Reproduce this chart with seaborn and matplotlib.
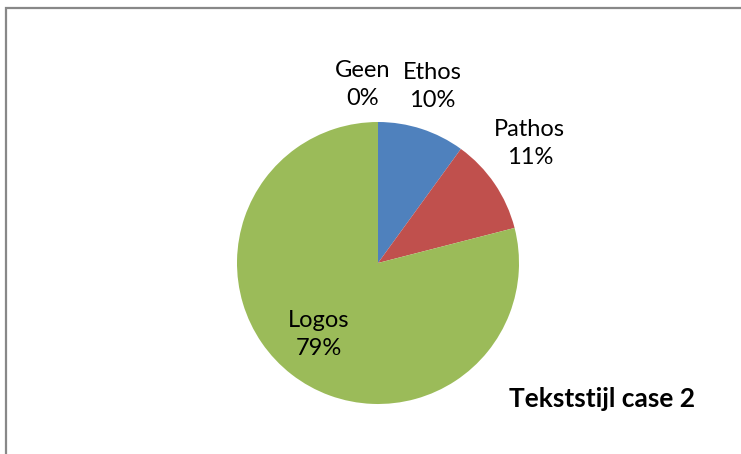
import numpy as np
import matplotlib
matplotlib.use("Agg")
import matplotlib.pyplot as plt
import seaborn as sns
from matplotlib.patches import Rectangle

categories = ["Geen", "Ethos", "Pathos", "Logos"]
shares = [0, 10, 11, 79]
pct_labels = ["0%", "10%", "11%", "79%"]
title = "Tekststijl case 2"

sns.set_theme(style="white")
plt.rcParams["font.family"] = ["Lato", "DejaVu Sans"]

colors = ["#F79646", "#4F81BD", "#C0504D", "#9BBB59"]

W, H = 741, 454
fig = plt.figure(figsize=(W / 100, H / 100), dpi=100)
ax = fig.add_axes([0, 0, 1, 1])

cx, cy, rad = 378, 263, 141

wedges, _ = ax.pie(shares, colors=colors, startangle=90, counterclock=False,
                   radius=1.0, center=(0, 0), frame=True,
                   wedgeprops=dict(linewidth=0))
ax.set_xlim(-cx / rad, (W - cx) / rad)
ax.set_ylim(-(H - cy) / rad, cy / rad)
ax.set_aspect("auto")
ax.axis("off")

# label placement: (distance from centre, angular nudge in degrees)
placement = {"Geen": (1.27, 5), "Ethos": (1.31, 1), "Pathos": (1.37, 4), "Logos": (0.66, -2)}
for w, name, pct in zip(wedges, categories, pct_labels):
    mid = np.deg2rad((w.theta1 + w.theta2) / 2 + placement[name][1])
    r = placement[name][0]
    ax.text(r * np.cos(mid), r * np.sin(mid), f"{name}\n{pct}",
            ha="center", va="center", fontsize=17, color="black",
            linespacing=1.45)

fig.text(602 / W, 1 - 399 / H, title, ha="center", va="center",
         fontsize=19, fontweight="bold", color="black")

# chart area border
fig.patches.append(Rectangle((6 / W, -0.1), 1.2, 1 - 8 / H + 0.1,
                             transform=fig.transFigure, fill=False,
                             edgecolor="#888888", linewidth=1.6))

fig.savefig("out.png", dpi=100, facecolor="white")
